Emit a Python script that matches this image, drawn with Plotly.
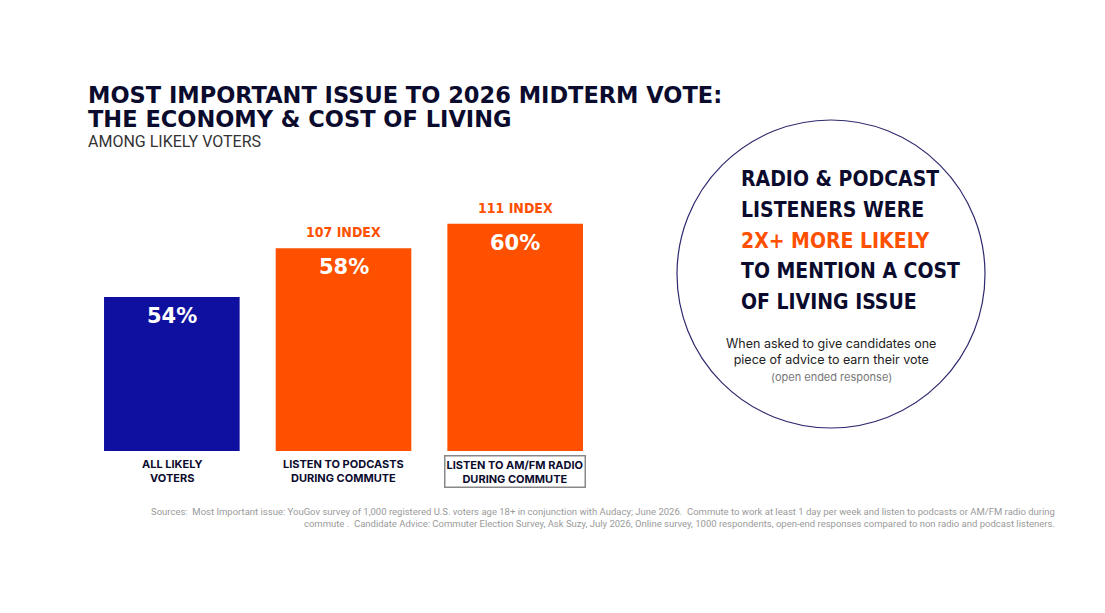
import plotly.graph_objects as go

# data
categories = ['ALL LIKELY<br>VOTERS', 'LISTEN TO PODCASTS<br>DURING COMMUTE', 'LISTEN TO AM/FM RADIO<br>DURING COMMUTE']
values = [54, 58, 60]
index_labels = ['', '107 INDEX', '111 INDEX']
bar_colors = ['#1010A0', '#FF5000', '#FF5000']
callout_lines = ['RADIO &amp; PODCAST', 'LISTENERS WERE', '2X+ MORE LIKELY', 'TO MENTION A COST', 'OF LIVING ISSUE']
callout_colors = ['#0B0B2E', '#0B0B2E', '#FF5000', '#0B0B2E', '#0B0B2E']

# page body adds an 8px margin, so the figure is drawn 8px in from the corner
OFF = 8
W, H = 1105 - 2 * OFF, 613 - 2 * OFF
NAVY = '#0B0B2E'
ORANGE = '#FF5000'
COND = 'DejaVu Sans Condensed, sans-serif'


def px(x):
    return (x - OFF) / W


def py(y):
    return 1 - (y - OFF) / H


fig = go.Figure()
fig.add_trace(go.Bar(x=categories, y=values, marker=dict(color=bar_colors, line=dict(width=0)),
                     width=0.79, hoverinfo='skip'))

ann = []
for c, v, idx in zip(categories, values, index_labels):
    ann.append(dict(x=c, y=v, xref='x', yref='y', text='%d%%' % v, showarrow=False, yanchor='top', yshift=-5,
                    font=dict(family='DejaVu Sans', size=21, color='white', weight='bold')))
    if idx:
        ann.append(dict(x=c, y=v, xref='x', yref='y', text=idx, showarrow=False, yanchor='bottom', yshift=6,
                        font=dict(family=COND, size=14, color=ORANGE, weight='bold')))

for i, c in enumerate(categories):
    a = dict(x=c, y=41.35, xref='x', yref='y', text=c, showarrow=False, yanchor='top', yshift=-4,
             font=dict(family='Inter', size=11, color=NAVY, weight='bold'))
    if i == 2:
        a.update(bordercolor='#888888', borderwidth=1.5, borderpad=1)
    ann.append(a)

# titles
title_lines = ['MOST IMPORTANT ISSUE TO 2026 MIDTERM VOTE:', 'THE ECONOMY &amp; COST OF LIVING']
for k, t in enumerate(title_lines):
    ann.append(dict(x=px(86), y=py(95 + 24 * k), xref='paper', yref='paper', xanchor='left', yanchor='middle',
                    showarrow=False, text=t, font=dict(family='DejaVu Sans', size=22.5, color=NAVY, weight='bold')))
ann.append(dict(x=px(86), y=py(142), xref='paper', yref='paper', xanchor='left', yanchor='middle',
                showarrow=False, text='AMONG LIKELY VOTERS',
                font=dict(family='Roboto', size=16, color='#333333')))

# circle callout text, one line each to keep the tight leading
for k, (t, col) in enumerate(zip(callout_lines, callout_colors)):
    ann.append(dict(x=px(739), y=py(179 + 30.8 * k), xref='paper', yref='paper', xanchor='left', yanchor='middle',
                    showarrow=False, text=t, font=dict(family=COND, size=21, color=col, weight='bold')))
ann.append(dict(x=px(831), y=py(334), xref='paper', yref='paper', xanchor='center', yanchor='top', align='center',
                showarrow=False, text='When asked to give candidates one<br>piece of advice to earn their vote',
                font=dict(family='Inter', size=12.5, color='#222222')))
ann.append(dict(x=px(831), y=py(377), xref='paper', yref='paper', xanchor='center', yanchor='middle',
                showarrow=False, text='(open ended response)',
                font=dict(family='Inter', size=11, color='#777777')))

# sources
ann.append(dict(x=px(1057), y=py(504), xref='paper', yref='paper', xanchor='right', yanchor='top', align='right',
                showarrow=False,
                text='Sources:  Most Important issue: YouGov survey of 1,000 registered U.S. voters age 18+ in conjunction with Audacy; June 2026.  '
                     'Commute to work at least 1 day per week and listen to podcasts or AM/FM radio during<br>'
                     'commute .  Candidate Advice: Commuter Election Survey, Ask Suzy, July 2026, Online survey, 1000 respondents, '
                     'open-end responses compared to non radio and podcast listeners.',
                font=dict(family='Roboto', size=9.5, color='#9a9a9a')))

fig.add_shape(type='circle', xref='paper', yref='paper', x0=px(677), x1=px(985), y0=py(428), y1=py(120),
              line=dict(color='#2E2A6E', width=1.2), fillcolor='white', layer='below')

fig.update_layout(
    width=W, height=H,
    margin=dict(l=0, r=0, t=0, b=0),
    plot_bgcolor='white', paper_bgcolor='white',
    showlegend=False,
    annotations=ann,
    xaxis=dict(domain=[px(86), px(601)], range=[-0.5, 2.5], showticklabels=False, showgrid=False,
               zeroline=False, showline=False, fixedrange=True),
    yaxis=dict(domain=[py(451), py(180)], range=[41.35, 63.6], showticklabels=False, showgrid=False,
               zeroline=False, showline=False, fixedrange=True),
)

fig.write_html("out.html")
